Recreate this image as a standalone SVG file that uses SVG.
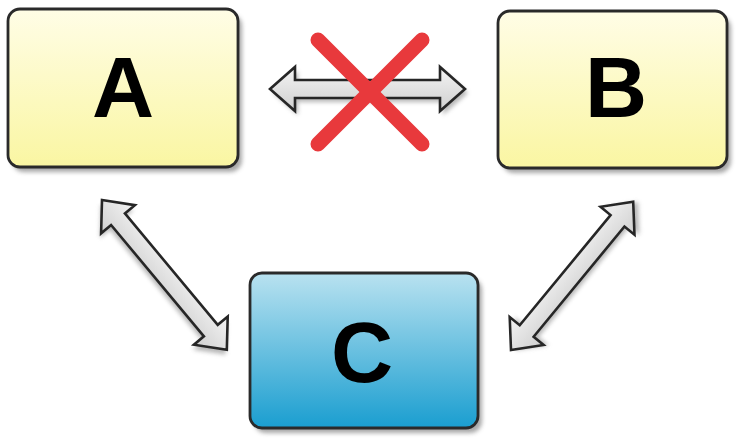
<svg xmlns="http://www.w3.org/2000/svg" width="736" height="442" viewBox="0 0 736 442">
<defs>
<linearGradient id="gy" x1="0" y1="0" x2="0" y2="1"><stop offset="0" stop-color="#fffde6"/><stop offset="1" stop-color="#faf6a2"/></linearGradient>
<linearGradient id="gb" x1="0" y1="0" x2="0" y2="1"><stop offset="0" stop-color="#b9e2f0"/><stop offset="1" stop-color="#1a9ed0"/></linearGradient>
<linearGradient id="ga" x1="0" y1="0" x2="0" y2="1"><stop offset="0" stop-color="#f4f4f4"/><stop offset="1" stop-color="#cfcfcf"/></linearGradient>
<filter id="sh" x="-10%" y="-10%" width="130%" height="130%"><feGaussianBlur stdDeviation="2"/></filter>
<path id="arr" d="M0,0 L25,-22 L25,-9 L170,-9 L170,-22 L195,0 L170,22 L170,9 L25,9 L25,22 Z"/>
</defs>
<style>
.box{stroke:#2a2a2a;stroke-width:2.8}
.shadow{fill:#8a8a8a;filter:url(#sh);opacity:.75}
.lbl{font-family:"Liberation Sans",Arial,sans-serif;font-weight:bold;font-size:86px;fill:#000;text-anchor:middle}
.arrow{fill:url(#ga);stroke:#262626;stroke-width:2.6;stroke-linejoin:miter}
.ashadow{fill:#9a9a9a;filter:url(#sh);opacity:.7}
.cross{stroke:#e8393c;stroke-width:15;stroke-linecap:round}
</style>
<g id="connectors">
<g transform="translate(270,89)">
<use href="#arr" class="ashadow" transform="translate(3,4)"/>
<use href="#arr" class="arrow"/>
</g>
<g transform="translate(102,200) rotate(50.2)">
<use href="#arr" class="ashadow" transform="translate(3,4)"/>
<use href="#arr" class="arrow"/>
</g>
<g transform="translate(511,350) rotate(-50.5) scale(0.985,1)">
<use href="#arr" class="ashadow" transform="translate(3,4)"/>
<use href="#arr" class="arrow"/>
</g>
<g id="cross">
<line class="cross" x1="318" y1="40" x2="422" y2="144"/>
<line class="cross" x1="422" y1="40" x2="318" y2="144"/>
</g>
</g>
<g id="node-A">
<rect class="shadow" x="12" y="14" width="230" height="158" rx="12"/>
<rect class="box" x="8" y="9" width="230" height="158" rx="12" fill="url(#gy)"/>
<text class="lbl" x="123" y="117">A</text>
</g>
<g id="node-B">
<rect class="shadow" x="502" y="16" width="229" height="157" rx="12"/>
<rect class="box" x="498" y="11" width="229" height="157" rx="12" fill="url(#gy)"/>
<text class="lbl" x="616" y="117">B</text>
</g>
<g id="node-C">
<rect class="shadow" x="254" y="278" width="228" height="155" rx="12"/>
<rect class="box" x="250" y="273" width="228" height="155" rx="12" fill="url(#gb)"/>
<text class="lbl" x="362" y="382">C</text>
</g>
</svg>
